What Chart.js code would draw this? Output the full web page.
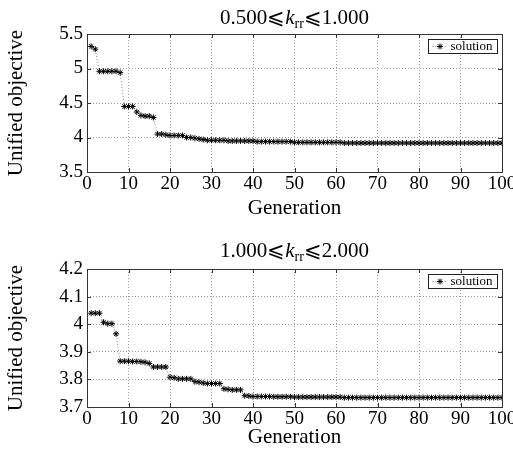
<!DOCTYPE html>
<html>
<head>
  <meta charset="utf-8">
  <style>
    html,
    body {
      margin: 0;
      background: #fff;
      overflow: hidden;
    }
    canvas {
      position: absolute;
      left: 0;
    }
  </style>
</head>
<body>
  <canvas id="chart1" width="513" height="226" style="top: 0"></canvas>
  <canvas id="chart2" width="513" height="226" style="top: 226px"></canvas>
</body>
<script src="https://cdn.jsdelivr.net/npm/chart.js"></script>
<script>
  // generation numbers (x)
  const generations = [
    1, 2, 3, 4, 5, 6, 7, 8, 9, 10, 11, 12, 13, 14, 15, 16, 17, 18, 19, 20,
    21, 22, 23, 24, 25, 26, 27, 28, 29, 30, 31, 32, 33, 34, 35, 36, 37, 38, 39, 40,
    41, 42, 43, 44, 45, 46, 47, 48, 49, 50, 51, 52, 53, 54, 55, 56, 57, 58, 59, 60,
    61, 62, 63, 64, 65, 66, 67, 68, 69, 70, 71, 72, 73, 74, 75, 76, 77, 78, 79, 80,
    81, 82, 83, 84, 85, 86, 87, 88, 89, 90, 91, 92, 93, 94, 95, 96, 97, 98, 99, 100
  ]

  // 0.500 <= k_rr <= 1.000
  const objectiveLow = [
    5.32, 5.28, 4.96, 4.96, 4.96, 4.96, 4.96, 4.94, 4.45, 4.45,
    4.45, 4.37, 4.32, 4.31, 4.31, 4.29, 4.05, 4.05, 4.04, 4.03,
    4.03, 4.03, 4.03, 4.0, 4.0, 3.99, 3.98, 3.97, 3.96, 3.96,
    3.96, 3.96, 3.96, 3.95, 3.95, 3.95, 3.95, 3.95, 3.95, 3.95,
    3.94, 3.94, 3.94, 3.94, 3.94, 3.94, 3.94, 3.94, 3.94, 3.93,
    3.93, 3.93, 3.93, 3.93, 3.93, 3.93, 3.93, 3.93, 3.93, 3.93,
    3.93, 3.92, 3.92, 3.92, 3.92, 3.92, 3.92, 3.92, 3.92, 3.92,
    3.92, 3.92, 3.92, 3.92, 3.92, 3.92, 3.92, 3.92, 3.92, 3.92,
    3.92, 3.92, 3.92, 3.92, 3.92, 3.92, 3.92, 3.92, 3.92, 3.92,
    3.92, 3.92, 3.92, 3.92, 3.92, 3.92, 3.92, 3.92, 3.92, 3.92
  ]

  // 1.000 <= k_rr <= 2.000
  const objectiveHigh = [
    4.04, 4.04, 4.04, 4.007, 4.002, 4.002, 3.965, 3.866, 3.866, 3.866,
    3.865, 3.865, 3.864, 3.862, 3.858, 3.845, 3.845, 3.845, 3.845, 3.808,
    3.806, 3.802, 3.802, 3.802, 3.802, 3.792, 3.79, 3.787, 3.785, 3.785,
    3.785, 3.785, 3.766, 3.764, 3.762, 3.762, 3.762, 3.741, 3.74, 3.738,
    3.738, 3.738, 3.738, 3.738, 3.737, 3.737, 3.737, 3.737, 3.737, 3.736,
    3.736, 3.736, 3.736, 3.736, 3.736, 3.736, 3.736, 3.736, 3.736, 3.736,
    3.736, 3.734, 3.734, 3.734, 3.734, 3.734, 3.734, 3.734, 3.734, 3.734,
    3.734, 3.734, 3.734, 3.734, 3.734, 3.734, 3.734, 3.734, 3.734, 3.734,
    3.734, 3.734, 3.734, 3.734, 3.734, 3.734, 3.734, 3.734, 3.734, 3.734,
    3.734, 3.734, 3.734, 3.734, 3.734, 3.734, 3.734, 3.734, 3.734, 3.734
  ]

  const seriesName = 'solution'
  const titleLow = ['0.500\u2A7D', 'k', 'rr', '\u2A7D1.000']
  const titleHigh = ['1.000\u2A7D', 'k', 'rr', '\u2A7D2.000']

  const serif = '"Liberation Serif", "Times New Roman", serif'
  const starStyle = { pointStyle: 'star', radius: 3, borderWidth: 1 }

  // matlab-ish frame, inward ticks, boxed legend and the title with subscript
  const framePlugin = {
    id: 'frame',
    afterDraw(chart, args, opts) {
      const ctx = chart.ctx
      const a = chart.chartArea
      const xs = chart.scales.x
      const ys = chart.scales.y
      const tl = 4
      ctx.save()
      ctx.strokeStyle = '#333'
      ctx.lineWidth = 1
      ctx.beginPath()
      xs.ticks.forEach(t => {
        const px = Math.round(xs.getPixelForValue(t.value)) + 0.5
        ctx.moveTo(px, a.bottom)
        ctx.lineTo(px, a.bottom - tl)
        ctx.moveTo(px, a.top)
        ctx.lineTo(px, a.top + tl)
      })
      ys.ticks.forEach(t => {
        const py = Math.round(ys.getPixelForValue(t.value)) + 0.5
        ctx.moveTo(a.left, py)
        ctx.lineTo(a.left + tl, py)
        ctx.moveTo(a.right, py)
        ctx.lineTo(a.right - tl, py)
      })
      ctx.stroke()
      ctx.strokeRect(
        Math.round(a.left) + 0.5,
        Math.round(a.top) + 0.5,
        Math.round(a.right - a.left),
        Math.round(a.bottom - a.top)
      )

      // legend box in the upper right corner
      const bw = 69
      const bh = 14
      const bx = Math.round(a.right) - 5 - bw + 0.5
      const by = Math.round(a.top) + 5 + 0.5
      ctx.fillStyle = '#fff'
      ctx.fillRect(bx, by, bw, bh)
      ctx.strokeStyle = '#222'
      ctx.strokeRect(bx, by, bw, bh)
      const my = by + bh / 2
      ctx.strokeStyle = '#777'
      ctx.setLineDash([1, 2])
      ctx.beginPath()
      ctx.moveTo(bx + 4, my)
      ctx.lineTo(bx + 19, my)
      ctx.stroke()
      ctx.setLineDash([])
      ctx.strokeStyle = '#000'
      ctx.fillStyle = '#000'
      Chart.helpers.drawPoint(ctx, starStyle, bx + 11.5, my)
      ctx.font = '13px ' + serif
      ctx.textBaseline = 'middle'
      ctx.textAlign = 'left'
      ctx.fillText(seriesName, bx + 22, my + 0.5)

      // title: normal, italic k, subscript rr, normal
      const parts = opts.parts
      const fonts = [
        '21px ' + serif,
        'italic 21px ' + serif,
        '14px ' + serif,
        '21px ' + serif
      ]
      const dy = [0, 0, 4, 0]
      ctx.fillStyle = '#000'
      ctx.textBaseline = 'alphabetic'
      let total = 0
      const widths = parts.map((p, i) => {
        ctx.font = fonts[i]
        const w = ctx.measureText(p).width
        total += w
        return w
      })
      let x = (a.left + a.right) / 2 - total / 2
      parts.forEach((p, i) => {
        ctx.font = fonts[i]
        ctx.fillText(p, x, opts.baseline + dy[i])
        x += widths[i]
      })
      ctx.restore()
    }
  }

  function makeChart(id, values, yMin, yMax, yStep, title, opt) {
    return new Chart(document.getElementById(id), {
      type: 'line',
      data: {
        datasets: [
          {
            label: seriesName,
            data: generations.map((g, i) => ({ x: g, y: values[i] })),
            borderColor: '#888',
            borderWidth: 1,
            borderDash: [1, 2],
            pointStyle: 'star',
            pointRadius: 3,
            pointBorderColor: '#000',
            pointBackgroundColor: '#000',
            pointBorderWidth: 1,
            tension: 0
          }
        ]
      },
      options: {
        responsive: false,
        animation: false,
        layout: {
          padding: { left: 0, right: 11, top: opt.top, bottom: 0 }
        },
        plugins: {
          legend: { display: false },
          tooltip: { enabled: false },
          frame: { parts: title, baseline: opt.titleBase }
        },
        scales: {
          x: {
            type: 'linear',
            min: 0,
            max: 100,
            ticks: {
              stepSize: 10,
              color: '#000',
              padding: 1,
              maxRotation: 0,
              font: { family: serif, size: 19 }
            },
            grid: {
              color: '#9a9a9a',
              lineWidth: 1,
              drawTicks: false
            },
            border: { display: false, dash: [1, 2] },
            title: {
              display: true,
              text: 'Generation',
              color: '#000',
              padding: { top: 0, bottom: opt.genPad },
              font: { family: serif, size: 21 }
            },
            afterFit: s => {
              s.height = opt.xh
              s.paddingLeft = 0
              s.paddingRight = 0
            }
          },
          y: {
            min: yMin,
            max: yMax,
            ticks: {
              stepSize: yStep,
              color: '#000',
              padding: 4,
              font: { family: serif, size: 19 },
              callback: v => String(+v.toFixed(2))
            },
            grid: {
              color: '#9a9a9a',
              lineWidth: 1,
              drawTicks: false
            },
            border: { display: false, dash: [1, 2] },
            title: {
              display: true,
              text: 'Unified objective',
              color: '#000',
              padding: { top: 4, bottom: 0 },
              font: { family: serif, size: 21 }
            },
            afterFit: s => {
              s.width = 87
            }
          }
        }
      },
      plugins: [framePlugin]
    })
  }

  makeChart('chart1', objectiveLow, 3.5, 5.5, 0.5, titleLow, {
    top: 34,
    xh: 54,
    genPad: 5,
    titleBase: 24
  })
  makeChart('chart2', objectiveHigh, 3.7, 4.2, 0.1, titleHigh, {
    top: 43,
    xh: 45,
    genPad: 2,
    titleBase: 31
  })
</script>
</html>
